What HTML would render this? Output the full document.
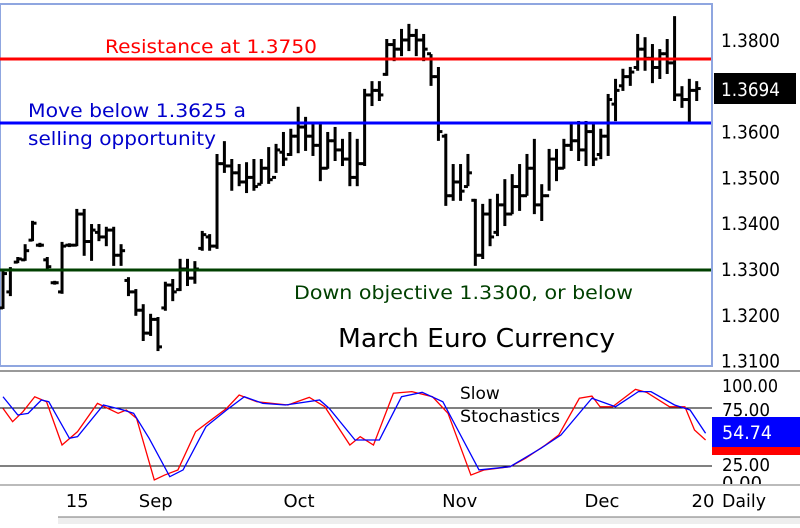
<!DOCTYPE html>
<html><head><meta charset="utf-8"><style>
body{margin:0;background:#fff;width:800px;height:524px;overflow:hidden;font-family:"DejaVu Sans",sans-serif}
svg text{font-family:"DejaVu Sans","Liberation Sans",sans-serif}
</style></head><body>
<svg id="c" width="800" height="524">
<rect x="0" y="0" width="800" height="524" fill="#fff"/>
<rect x="0" y="4" width="712" height="362" fill="none" stroke="#8fa6e0" stroke-width="2"/>
<defs><clipPath id="pc"><rect x="0" y="5" width="711" height="360"/></clipPath><clipPath id="sc"><rect x="0" y="374" width="712" height="110"/></clipPath></defs>
<g id="bars" clip-path="url(#pc)"></g>
<line x1="0" y1="59" x2="711" y2="59" stroke="#ff0000" stroke-width="3"/>
<line x1="0" y1="123" x2="711" y2="123" stroke="#0000ff" stroke-width="3"/>
<line x1="0" y1="270" x2="711" y2="270" stroke="#004000" stroke-width="3"/>
<text x="105" y="53" font-size="19" fill="#ff0000" textLength="212" lengthAdjust="spacingAndGlyphs">Resistance at 1.3750</text>
<text x="28" y="117" font-size="19" fill="#0000cc" textLength="218" lengthAdjust="spacingAndGlyphs">Move below 1.3625 a</text>
<text x="28" y="145" font-size="19" fill="#0000cc" textLength="188" lengthAdjust="spacingAndGlyphs">selling opportunity</text>
<text x="294" y="299" font-size="19" fill="#004000" textLength="339" lengthAdjust="spacingAndGlyphs">Down objective 1.3300, or below</text>
<text x="338" y="347" font-size="26" fill="#000" textLength="277" lengthAdjust="spacingAndGlyphs">March Euro Currency</text>
<g id="ptick"></g>
<rect x="714" y="73" width="82" height="31" fill="#000"/>
<text x="721" y="96" font-size="19" fill="#fff" textLength="59" lengthAdjust="spacingAndGlyphs">1.3694</text>
<line x1="0" y1="371" x2="800" y2="371" stroke="#999" stroke-width="2"/>
<line x1="0" y1="408" x2="712" y2="408" stroke="#000" stroke-width="1"/>
<line x1="0" y1="466" x2="712" y2="466" stroke="#000" stroke-width="1"/>
<g clip-path="url(#sc)"><polyline id="redl" fill="none" stroke="#ff0000" stroke-width="1.3"/><polyline id="bluel" fill="none" stroke="#0000ff" stroke-width="1.3"/></g>
<text x="460" y="399" font-size="17" fill="#000">Slow</text>
<text x="460" y="422" font-size="17" fill="#000" textLength="100" lengthAdjust="spacingAndGlyphs">Stochastics</text>
<text x="722" y="392" font-size="18" fill="#000" textLength="56" lengthAdjust="spacingAndGlyphs">100.00</text>
<text x="722" y="416" font-size="18" fill="#000" textLength="48" lengthAdjust="spacingAndGlyphs">75.00</text>
<text x="722" y="471" font-size="18" fill="#000" textLength="48" lengthAdjust="spacingAndGlyphs">25.00</text>
<text x="722" y="489" font-size="18" fill="#000">0.00</text>
<rect x="712" y="417" width="88" height="30" fill="#0000ff"/>
<rect x="712" y="447" width="88" height="8" fill="#ff0000"/>
<text x="722" y="439" font-size="19" fill="#fff" textLength="50" lengthAdjust="spacingAndGlyphs">54.74</text>
<rect x="0" y="484" width="800" height="40" fill="#fff"/>
<line x1="0" y1="485" x2="800" y2="485" stroke="#bbb" stroke-width="2"/>
<g id="xt"></g>
<text x="722" y="507" font-size="18" fill="#000" textLength="44" lengthAdjust="spacingAndGlyphs">Daily</text>
<rect x="58" y="517" width="742" height="7" fill="#eee"/>
<line x1="58" y1="517" x2="800" y2="517" stroke="#777" stroke-width="1"/>
</svg>
<script>
const hi=[1.3298,1.3302,1.3324,1.3352,1.3403,1.3355,1.3324,1.3272,1.3357,1.3354,1.3429,1.3429,1.3396,1.3396,1.3390,1.3390,1.3352,1.3280,1.3254,1.3221,1.3200,1.3193,1.3270,1.3276,1.3320,1.3320,1.3315,1.3381,1.3374,1.3549,1.3577,1.3538,1.3527,1.3531,1.3538,1.3538,1.3564,1.3571,1.3597,1.3604,1.3652,1.3630,1.3614,1.3614,1.3597,1.3608,1.3582,1.3597,1.3582,1.3691,1.3708,1.3708,1.3800,1.3800,1.3822,1.3833,1.3822,1.3811,1.3767,1.3739,1.3593,1.3527,1.3527,1.3549,1.3451,1.3440,1.3451,1.3462,1.3494,1.3505,1.3527,1.3549,1.3582,1.3483,1.3560,1.3560,1.3582,1.3614,1.3621,1.3621,1.3614,1.3604,1.3680,1.3713,1.3735,1.3739,1.3811,1.3804,1.3789,1.3778,1.3800,1.3850,1.3697,1.3713,1.3708];
const lo=[1.3215,1.3243,1.3315,1.3320,1.3363,1.3350,1.3298,1.3268,1.3248,1.3350,1.3352,1.3331,1.3320,1.3363,1.3352,1.3309,1.3309,1.3243,1.3200,1.3145,1.3156,1.3123,1.3211,1.3232,1.3254,1.3265,1.3270,1.3342,1.3342,1.3346,1.3512,1.3473,1.3483,1.3468,1.3473,1.3488,1.3488,1.3512,1.3527,1.3549,1.3555,1.3560,1.3549,1.3494,1.3521,1.3538,1.3527,1.3483,1.3483,1.3527,1.3658,1.3669,1.3724,1.3756,1.3767,1.3778,1.3767,1.3756,1.3702,1.3582,1.3440,1.3451,1.3451,1.3483,1.3309,1.3324,1.3352,1.3374,1.3396,1.3422,1.3429,1.3462,1.3422,1.3407,1.3473,1.3494,1.3521,1.3560,1.3538,1.3527,1.3527,1.3542,1.3549,1.3625,1.3691,1.3702,1.3735,1.3735,1.3708,1.3717,1.3728,1.3669,1.3654,1.3621,1.3669];
const op=[1.3215,1.3250,1.3315,1.3320,1.3363,1.3352,1.3320,1.3270,1.3250,1.3352,1.3352,1.3420,1.3360,1.3380,1.3370,1.3385,1.3330,1.3275,1.3250,1.3210,1.3160,1.3190,1.3215,1.3265,1.3255,1.3300,1.3280,1.3345,1.3370,1.3350,1.3530,1.3525,1.3510,1.3490,1.3500,1.3485,1.3520,1.3500,1.3555,1.3550,1.3590,1.3610,1.3590,1.3570,1.3520,1.3580,1.3560,1.3540,1.3500,1.3530,1.3680,1.3690,1.3725,1.3790,1.3780,1.3800,1.3810,1.3800,1.3770,1.3720,1.3590,1.3460,1.3490,1.3480,1.3450,1.3330,1.3420,1.3380,1.3440,1.3420,1.3480,1.3460,1.3520,1.3440,1.3460,1.3540,1.3520,1.3570,1.3580,1.3560,1.3600,1.3550,1.3590,1.3660,1.3700,1.3720,1.3740,1.3780,1.3760,1.3740,1.3770,1.3750,1.3680,1.3670,1.3690];
const cl=[1.3290,1.3298,1.3322,1.3340,1.3400,1.3352,1.3305,1.3270,1.3350,1.3352,1.3420,1.3360,1.3385,1.3370,1.3385,1.3330,1.3340,1.3250,1.3210,1.3160,1.3190,1.3130,1.3265,1.3250,1.3300,1.3280,1.3300,1.3375,1.3350,1.3530,1.3525,1.3510,1.3490,1.3500,1.3480,1.3520,1.3495,1.3560,1.3540,1.3590,1.3610,1.3590,1.3570,1.3520,1.3580,1.3560,1.3540,1.3500,1.3530,1.3680,1.3690,1.3680,1.3790,1.3780,1.3800,1.3810,1.3800,1.3780,1.3720,1.3600,1.3460,1.3490,1.3470,1.3510,1.3330,1.3420,1.3370,1.3440,1.3420,1.3480,1.3460,1.3520,1.3440,1.3460,1.3540,1.3520,1.3570,1.3580,1.3560,1.3600,1.3540,1.3590,1.3670,1.3690,1.3720,1.3730,1.3780,1.3760,1.3740,1.3770,1.3750,1.3680,1.3670,1.3690,1.3694];
const priceTicks=[1.38,1.37,1.36,1.35,1.34,1.33,1.32,1.31];
const priceTickLabels=["1.3800","1.3700","1.3600","1.3500","1.3400","1.3300","1.3200","1.3100"];
const kIdx=[0,1.3,2.7,4.3,5.9,8.0,10.1,12.8,15.6,16.7,18.1,20.5,21.9,23.7,26.1,28.2,30.3,32,34.4,38.6,41.5,43.6,47,48.4,50.2,52.9,55.4,58.2,60.3,63.4,65.2,68.7,70.8,73.5,75.3,78.1,79.8,80.9,82.6,85.7,87.2,90.3,92.4,93.7,95.2];
const kVal=[74.7,63.2,71.8,84.7,80.4,43.1,54.6,79,70.4,73.3,66.1,13,17.2,21.6,54.6,64.7,74.7,86.2,80.4,77.6,84.2,76.1,43.1,50.3,43.1,87.7,89.1,84.7,70.4,17.2,21.6,24.4,31.6,43.1,51.7,83.4,85.3,76.1,76.1,91.1,88.5,76.1,76.1,56,47.4];
const dIdx=[0,2.0,3.4,5.2,6.2,9.0,10.1,13.6,16.3,17.7,19.8,22.6,24.4,27.5,30.3,32.7,35.2,38.3,42.9,44.2,47.7,51,54,56.8,59.6,64.5,68.7,72.9,75.6,79.8,83,86.1,87.8,91,93.1,95.2];
const dVal=[84.7,69,70.4,81.9,80.4,48.9,50.3,77.6,73.3,70.4,48.9,15.8,21.6,58.9,73.3,84.7,79,77.6,81.9,74.7,47.4,47.4,84.7,88.5,80.4,21.6,24.4,40.3,51.7,83.4,76.1,89.1,89.1,77.6,73.3,53.2];
const xLabels=["15","Sep","Oct","Nov","Dec","20"];
const xLabelIdx=[8.5,18.4,38,59.5,78.8,93.3];

const NS="http://www.w3.org/2000/svg";
const X=i=>3+7.38*i;
const Y=p=>40+(1.38-p)*4580;
const SY=v=>466-(v-25)*1.16;
function mk(t,a){const e=document.createElementNS(NS,t);for(const k in a)e.setAttribute(k,a[k]);return e;}
const bars=document.getElementById('bars');
for(let i=0;i<hi.length;i++){
  const g=mk('g',{stroke:'#000','stroke-width':3});
  
  
  const x=X(i);
  g.appendChild(mk('line',{x1:x,y1:Y(hi[i])-1,x2:x,y2:Y(lo[i])+1}));
  g.appendChild(mk('line',{x1:x-4,y1:Y(op[i]),x2:x,y2:Y(op[i])}));
  g.appendChild(mk('line',{x1:x,y1:Y(cl[i]),x2:x+4,y2:Y(cl[i])}));
  bars.appendChild(g);
}
const pt=document.getElementById('ptick');
priceTicks.forEach((p,i)=>{
  const t=mk('text',{x:721,y:Y(p)+7,'font-size':19,fill:'#000',textLength:59,lengthAdjust:'spacingAndGlyphs'});
  
  
  t.textContent=priceTickLabels[i];pt.appendChild(t);
});
document.getElementById('redl').setAttribute('points',kIdx.map((d,i)=>X(d)+','+SY(kVal[i])).join(' '));
document.getElementById('bluel').setAttribute('points',dIdx.map((d,i)=>X(d)+','+SY(dVal[i])).join(' '));
const xt=document.getElementById('xt');
xLabels.forEach((l,i)=>{
  const t=mk('text',{x:X(xLabelIdx[i]),y:507,'font-size':18,fill:'#000'});
  
  
  t.textContent=l;xt.appendChild(t);
});
</script>
</body></html>
